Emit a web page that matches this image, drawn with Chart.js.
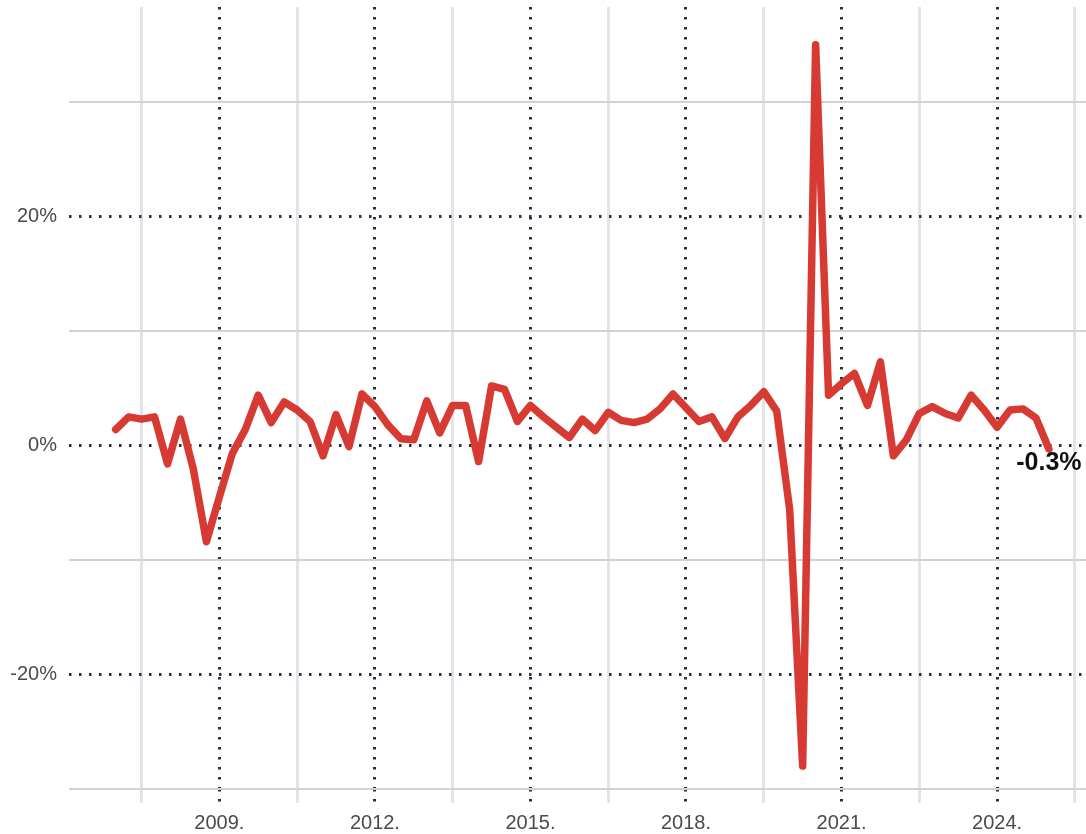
<!DOCTYPE html>
<html>
<head>
<meta charset="utf-8">
<script src="https://cdn.jsdelivr.net/npm/chart.js@4.4.1/dist/chart.umd.min.js"></script>
<style>
  html, body { margin: 0; padding: 0; background: #fff; }
  #wrap { width: 1086px; height: 834px; position: relative; }
</style>
</head>
<body>
<div id="wrap"><canvas id="gdpChart"></canvas></div>
<script>
// quarterly real GDP growth, annualized, %
const years = [2007, 2008, 2009, 2010, 2011, 2012, 2013, 2014, 2015, 2016,
  2017, 2018, 2019, 2020, 2021, 2022, 2023, 2024, 2025];
const growth = [
  1.4, 2.5, 2.3, 2.5,      // 2007
  -1.6, 2.3, -2.1, -8.4,   // 2008
  -4.5, -0.7, 1.4, 4.4,    // 2009
  2.0, 3.8, 3.1, 2.1,      // 2010
  -0.9, 2.7, -0.1, 4.5,    // 2011
  3.4, 1.8, 0.6, 0.5,      // 2012
  3.9, 1.1, 3.5, 3.5,      // 2013
  -1.4, 5.2, 4.9, 2.1,     // 2014
  3.5, 2.5, 1.6, 0.7,      // 2015
  2.3, 1.3, 2.9, 2.2,      // 2016
  2.0, 2.3, 3.2, 4.5,      // 2017
  3.3, 2.1, 2.5, 0.6,      // 2018
  2.5, 3.5, 4.7, 3.0,      // 2019
  -5.6, -28.0, 35.0, 4.4,  // 2020
  5.4, 6.3, 3.5, 7.3,      // 2021
  -0.9, 0.5, 2.8, 3.4,     // 2022
  2.8, 2.4, 4.4, 3.1,      // 2023
  1.6, 3.1, 3.2, 2.4,      // 2024
  -0.3                     // 2025
];

// axis ticks
const majorYears = [2009, 2012, 2015, 2018, 2021, 2024];
const minorYears = [2007.5, 2010.5, 2013.5, 2016.5, 2019.5, 2022.5, 2025.5];
const majorPct = [-20, 0, 20];
const minorPct = [-30, -10, 10, 30];

const RED = '#d63a33';
const DOTS = '#2a3145';
const TEXT = '#4a4a4a';
const FONT = "'Liberation Sans', Arial, Helvetica, sans-serif";

// one point per quarter: year + (q-1)/4
const points = growth.map(function (v, i) {
  return { x: years[Math.floor(i / 4)] + (i % 4) / 4, y: v };
});

function setTicks(list) {
  return function (scale) {
    scale.ticks = list.map(function (v) { return { value: v }; });
  };
}

// label for the last value under the end of the line
const lastLabel = {
  id: 'lastLabel',
  afterDatasetsDraw(chart) {
    const meta = chart.getDatasetMeta(0);
    const pt = meta.data[meta.data.length - 1];
    const v = growth[growth.length - 1];
    const ctx = chart.ctx;
    ctx.save();
    ctx.font = 'bold 25px ' + FONT;
    ctx.fillStyle = '#111';
    ctx.textAlign = 'center';
    ctx.textBaseline = 'middle';
    ctx.fillText(v.toFixed(1) + '%', pt.x, pt.y + 14);
    ctx.restore();
  }
};

const xMin = 2006.1, xMax = 2025.715;
const yMin = -30, yMax = 38.3;

new Chart(document.getElementById('gdpChart'), {
  type: 'line',
  data: {
    datasets: [{
      data: points,
      borderColor: RED,
      borderWidth: 7.5,
      borderJoinStyle: 'round',
      borderCapStyle: 'round',
      pointRadius: 0,
      tension: 0
    }]
  },
  options: {
    responsive: true,
    maintainAspectRatio: false,
    animation: false,
    layout: { padding: { top: 7, left: 0, right: 0, bottom: 0 } },
    plugins: { legend: { display: false }, tooltip: { enabled: false } },
    scales: {
      x2: {
        type: 'linear', position: 'bottom', min: xMin, max: xMax,
        afterBuildTicks: setTicks(minorYears),
        afterFit(s) { s.height = 0; s.paddingLeft = 0; s.paddingRight = 0; },
        ticks: { display: false },
        grid: { color: '#e4e4e8', lineWidth: 3, tickLength: 14 },
        border: { display: false }
      },
      x: {
        type: 'linear', position: 'bottom', min: xMin, max: xMax,
        afterBuildTicks: setTicks(majorYears),
        afterFit(s) { s.height = 45; s.paddingLeft = 0; s.paddingRight = 0; },
        ticks: {
          color: TEXT, padding: 8, maxRotation: 0,
          font: { family: FONT, size: 20 },
          callback: function (v) { return v + '.'; }
        },
        grid: { color: DOTS, lineWidth: 3, tickLength: 14, tickBorderDash: [2.5, 7.5] },
        border: { display: false, dash: [2.5, 7.5] }
      },
      y2: {
        type: 'linear', position: 'left', min: yMin, max: yMax,
        afterBuildTicks: setTicks(minorPct),
        afterFit(s) { s.width = 0; s.paddingTop = 0; s.paddingBottom = 0; },
        ticks: { display: false },
        grid: { color: '#d2d2d2', lineWidth: 2, drawTicks: false },
        border: { display: false }
      },
      y: {
        type: 'linear', position: 'left', min: yMin, max: yMax,
        afterBuildTicks: setTicks(majorPct),
        afterFit(s) { s.width = 69; s.paddingTop = 0; s.paddingBottom = 0; },
        ticks: {
          color: TEXT, padding: 12,
          font: { family: FONT, size: 20 },
          callback: function (v) { return v + '%'; }
        },
        grid: { color: DOTS, lineWidth: 3, drawTicks: false },
        border: { display: false, dash: [2.5, 7.5] }
      }
    }
  },
  plugins: [lastLabel]
});
</script>
</body>
</html>
